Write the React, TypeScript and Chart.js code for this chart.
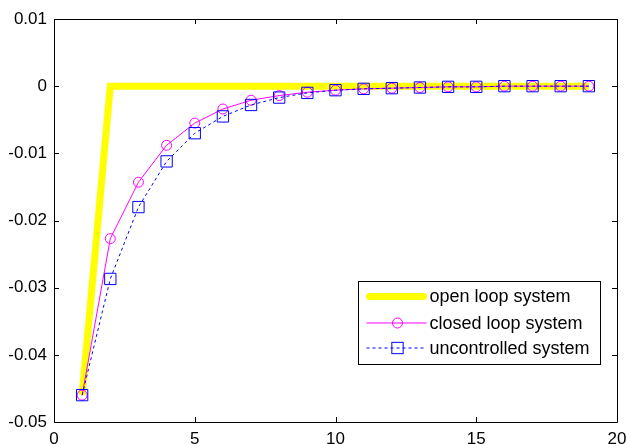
import React, { useEffect, useRef } from "react";
import { Chart, registerables } from "chart.js";

Chart.register(...registerables);

const xValues = [1, 2, 3, 4, 5, 6, 7, 8, 9, 10, 11, 12, 13, 14, 15, 16, 17, 18, 19];
const openLoop = [-0.046, 0, 0, 0, 0, 0, 0, 0, 0, 0, 0, 0, 0, 0, 0, 0, 0, 0, 0];
const closedLoop = [-0.046, -0.0227, -0.0143, -0.0088, -0.0055, -0.0034, -0.0021, -0.0014, -0.0009, -0.0006, -0.0004, -0.0003, -0.0002, -0.0001, -0.0001, 0, 0, 0, 0];
const uncontrolled = [-0.046, -0.0287, -0.018, -0.0112, -0.007, -0.0045, -0.0028, -0.0017, -0.001, -0.0006, -0.0004, -0.0003, -0.0002, -0.0001, -0.0001, 0, 0, 0, 0];
const seriesNames = ["open loop system", "closed loop system", "uncontrolled system"];
const xTicks = [0, 5, 10, 15, 20];
const yTicks = [-0.05, -0.04, -0.03, -0.02, -0.01, 0, 0.01];

const FONT = "'Liberation Sans', Arial, sans-serif";

const framePlugin = {
  id: "frame",
  afterDatasetsDraw(chart: any) {
    const { ctx, chartArea: a, scales } = chart;
    ctx.save();
    ctx.strokeStyle = "#000";
    ctx.lineWidth = 1;
    ctx.beginPath();
    ctx.rect(Math.round(a.left) + 0.5, Math.round(a.top) + 0.5, Math.round(a.right - a.left), Math.round(a.bottom - a.top));
    const tl = 5;
    for (const v of xTicks) {
      const px = Math.round(scales.x.getPixelForValue(v)) + 0.5;
      ctx.moveTo(px, a.bottom);
      ctx.lineTo(px, a.bottom - tl);
      ctx.moveTo(px, a.top);
      ctx.lineTo(px, a.top + tl);
    }
    for (const v of yTicks) {
      const py = Math.round(scales.y.getPixelForValue(v)) + 0.5;
      ctx.moveTo(a.left, py);
      ctx.lineTo(a.left + tl, py);
      ctx.moveTo(a.right, py);
      ctx.lineTo(a.right - tl, py);
    }
    ctx.stroke();
    ctx.restore();
  },
  afterDraw(chart: any) {
    const { ctx, chartArea: a } = chart;
    const w = 242;
    const h = 83;
    const bx = Math.round(a.right - 17 - w) + 0.5;
    const by = Math.round(a.bottom - 58 - h) + 0.5;
    ctx.save();
    ctx.fillStyle = "#fff";
    ctx.strokeStyle = "#000";
    ctx.lineWidth = 1;
    ctx.fillRect(bx, by, w, h);
    ctx.strokeRect(bx, by, w, h);
    const rows = [15, 41.5, 66.5];
    const datasets = chart.data.datasets;
    rows.forEach((dy, i) => {
      const ds = datasets[i];
      const y = by + dy;
      const x0 = bx + 8;
      const x1 = bx + 68;
      const xm = bx + 39;
      ctx.save();
      ctx.strokeStyle = ds.borderColor;
      ctx.lineWidth = ds.borderWidth;
      ctx.lineCap = i === 0 ? "round" : "butt";
      ctx.setLineDash(ds.borderDash || []);
      ctx.beginPath();
      ctx.moveTo(x0 + (i === 0 ? 3 : 0), y);
      ctx.lineTo(x1 - (i === 0 ? 3 : 0), y);
      ctx.stroke();
      ctx.setLineDash([]);
      if (ds.pointStyle === "circle") {
        ctx.strokeStyle = ds.pointBorderColor;
        ctx.lineWidth = 1;
        ctx.beginPath();
        ctx.arc(xm, y, ds.pointRadius, 0, Math.PI * 2);
        ctx.stroke();
      } else if (ds.pointStyle === "rect") {
        ctx.strokeStyle = ds.pointBorderColor;
        ctx.lineWidth = 1;
        const r = ds.pointRadius * 0.7071;
        ctx.strokeRect(xm - r, y - r, 2 * r, 2 * r);
      }
      ctx.restore();
      ctx.fillStyle = "#000";
      ctx.font = `18px ${FONT}`;
      ctx.textAlign = "left";
      ctx.textBaseline = "middle";
      ctx.fillText(ds.label, bx + 71, y + 1);
    });
    ctx.restore();
  },
};

export default function App() {
  const ref = useRef<HTMLCanvasElement | null>(null);
  useEffect(() => {
    document.body.style.margin = "0";
    const canvas = ref.current;
    if (!canvas) return;
    const toPts = (ys: number[]) => xValues.map((x, i) => ({ x, y: ys[i] }));
    const chart = new Chart(canvas, {
      type: "line",
      data: {
        datasets: [
          {
            label: seriesNames[0],
            data: toPts(openLoop),
            borderColor: "#FFFF00",
            borderWidth: 7,
            pointRadius: 0,
            pointStyle: false as any,
            borderJoinStyle: "miter",
            order: 3,
            tension: 0,
          } as any,
          {
            label: seriesNames[1],
            data: toPts(closedLoop),
            borderColor: "#FF00FF",
            borderWidth: 1,
            pointStyle: "circle",
            pointRadius: 5,
            pointBorderColor: "#FF00FF",
            pointBackgroundColor: "rgba(0,0,0,0)",
            pointBorderWidth: 1,
            order: 2,
            tension: 0,
          },
          {
            label: seriesNames[2],
            data: toPts(uncontrolled),
            borderColor: "#0000FF",
            borderWidth: 1,
            borderDash: [3, 3],
            pointStyle: "rect",
            pointRadius: 8,
            pointBorderColor: "#0000FF",
            pointBackgroundColor: "rgba(0,0,0,0)",
            pointBorderWidth: 1,
            order: 1,
            tension: 0,
          },
        ],
      },
      options: {
        animation: false,
        responsive: false,
        maintainAspectRatio: false,
        layout: { padding: { top: 19, right: 7, left: 0, bottom: 0 } },
        plugins: { legend: { display: false }, tooltip: { enabled: false } },
        scales: {
          x: {
            type: "linear",
            min: 0,
            max: 20,
            afterBuildTicks: (s: any) => {
              s.ticks = xTicks.map((v) => ({ value: v }));
            },
            afterFit: (s: any) => {
              s.height = 22;
              s.paddingLeft = 0;
              s.paddingRight = 0;
            },
            grid: { display: false, drawTicks: false },
            border: { display: false },
            ticks: {
              padding: 7,
              color: "#000",
              font: { family: FONT, size: 17 },
              maxRotation: 0,
              autoSkip: false,
              callback: (v: any) => String(Math.round(Number(v) * 100) / 100),
            },
          },
          y: {
            type: "linear",
            min: -0.05,
            max: 0.01,
            afterBuildTicks: (s: any) => {
              s.ticks = yTicks.map((v) => ({ value: v }));
            },
            afterFit: (s: any) => {
              s.width = 54;
              s.paddingTop = 0;
              s.paddingBottom = 0;
            },
            grid: { display: false, drawTicks: false },
            border: { display: false },
            ticks: {
              padding: 7,
              color: "#000",
              font: { family: FONT, size: 17 },
              autoSkip: false,
              callback: (v: any) => {
                const r = Math.round(Number(v) * 100) / 100;
                return r === 0 ? "0" : String(r);
              },
            },
          },
        },
      },
      plugins: [framePlugin],
    });
    return () => chart.destroy();
  }, []);
  return (
    <div style={{ width: 626, height: 444 }}>
      <canvas ref={ref} width={626} height={444} style={{ display: "block" }} />
    </div>
  );
}
